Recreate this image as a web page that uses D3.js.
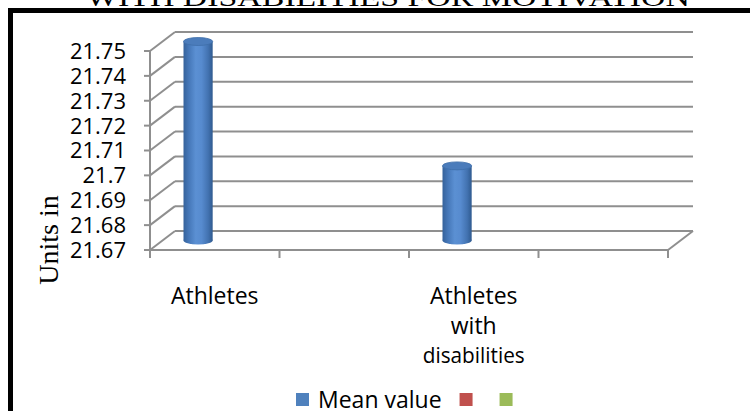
<!DOCTYPE html>
<html>
<head>
<meta charset="utf-8">
<script src="https://cdn.jsdelivr.net/npm/d3@7"></script>
<style>
  html, body { margin: 0; padding: 0; background: #fff; }
  svg { display: block; }
</style>
</head>
<body>
<svg id="chart" width="750" height="411"></svg>
<script>
// ---- data ----
const categories = ["Athletes", "", "Athletes with disabilities", ""];
const categoryLines = [["Athletes"], [], ["Athletes", "with", "disabilities"], []];
const seriesNames = ["Mean value", "", ""];
const seriesColors = ["#4f81bd", "#c0504d", "#9bbb59"];
const meanValues = [21.75, null, 21.70, null];
const yTicks = [21.67, 21.68, 21.69, 21.70, 21.71, 21.72, 21.73, 21.74, 21.75];
const yTickLabels = ["21.67", "21.68", "21.69", "21.7", "21.71", "21.72", "21.73", "21.74", "21.75"];
const titleText = "WITH DISABILITIES FOR MOTIVATION";
const yAxisTitle = "Units in";

// ---- layout ----
const svg = d3.select("#chart");
const front = { left: 150, right: 668, top: 51, bottom: 250 };
const depth = { dx: 25, dy: -19 };
const gridColor = "#8f8f8f";
const textFont = "'Open Sans', sans-serif";

const y = d3.scaleLinear().domain([21.67, 21.75]).range([front.bottom, front.top]);
const x0 = d3.scaleBand().domain(d3.range(categories.length)).range([front.left, front.right]).padding(0);
const x1 = d3.scaleBand().domain(d3.range(seriesNames.length)).range([0, x0.bandwidth()]).paddingOuter(0.72).paddingInner(0);

// outer frame
svg.append("rect")
  .attr("x", 10.5).attr("y", 10.5).attr("width", 800).attr("height", 500)
  .attr("fill", "none").attr("stroke", "#000").attr("stroke-width", 5);

// title (top part falls outside the view)
svg.append("text")
  .attr("x", 388).attr("y", 6)
  .attr("text-anchor", "middle")
  .attr("font-family", "'Liberation Serif', 'Times New Roman', serif")
  .attr("font-size", 26)
  .attr("textLength", 604).attr("lengthAdjust", "spacingAndGlyphs")
  .text(titleText);

// back wall gridlines + side wall diagonals
const grid = svg.append("g").attr("stroke", gridColor).attr("stroke-width", 2).attr("fill", "none");
yTicks.forEach(t => {
  const fy = y(t);
  grid.append("line")
    .attr("x1", front.left + depth.dx).attr("y1", fy + depth.dy)
    .attr("x2", front.right + depth.dx).attr("y2", fy + depth.dy);
  grid.append("line")
    .attr("x1", front.left).attr("y1", fy)
    .attr("x2", front.left + depth.dx).attr("y2", fy + depth.dy);
});
// floor right edge diagonal
grid.append("line")
  .attr("x1", front.right).attr("y1", front.bottom)
  .attr("x2", front.right + depth.dx).attr("y2", front.bottom + depth.dy);
// front floor edge
grid.append("line")
  .attr("x1", front.left).attr("y1", front.bottom)
  .attr("x2", front.right).attr("y2", front.bottom);
// front vertical axis
grid.append("line")
  .attr("x1", front.left).attr("y1", front.top)
  .attr("x2", front.left).attr("y2", front.bottom);
// y tick marks
yTicks.forEach(t => {
  grid.append("line")
    .attr("x1", front.left - 6).attr("y1", y(t))
    .attr("x2", front.left).attr("y2", y(t));
});
// x tick marks at category boundaries
const xBounds = categories.map((c, i) => x0(i)).concat([front.right]);
xBounds.forEach(xb => {
  grid.append("line")
    .attr("x1", xb).attr("y1", front.bottom)
    .attr("x2", xb).attr("y2", front.bottom + 8);
});

// y tick labels
svg.append("g").selectAll("text")
  .data(yTicks)
  .join("text")
  .attr("x", 126)
  .attr("y", d => y(d))
  .attr("dy", "0.36em")
  .attr("text-anchor", "end")
  .attr("font-family", textFont)
  .attr("font-size", 22)
  .attr("fill", "#000")
  .text((d, i) => yTickLabels[i]);

// y axis title
svg.append("text")
  .attr("transform", "translate(58,240) rotate(-90)")
  .attr("text-anchor", "middle")
  .attr("font-family", "'Liberation Serif', 'Times New Roman', serif")
  .attr("font-size", 28)
  .attr("fill", "#000")
  .text(yAxisTitle);

// category labels
const catG = svg.append("g");
categoryLines.forEach((lines, i) => {
  const cx = x0(i) + x0.bandwidth() / 2;
  lines.forEach((ln, j) => {
    const t = catG.append("text")
      .attr("x", cx).attr("y", 304 + j * 29.5)
      .attr("text-anchor", "middle")
      .attr("font-family", textFont)
      .attr("font-size", 23)
      .attr("fill", "#000")
      .text(ln);
    if (ln === "disabilities") t.attr("font-size", 21).attr("textLength", 102).attr("lengthAdjust", "spacingAndGlyphs");
  });
});

// cylinders
const defs = svg.append("defs");
const grad = defs.append("linearGradient").attr("id", "cylBody").attr("x1", "0").attr("x2", "1").attr("y1", "0").attr("y2", "0");
[["0%", "#35629b"], ["18%", "#4577b8"], ["42%", "#5b90d3"], ["62%", "#578bcf"], ["85%", "#4272b0"], ["100%", "#2f5a8f"]]
  .forEach(([o, c]) => grad.append("stop").attr("offset", o).attr("stop-color", c));

const bars = svg.append("g");
const ry = 4;
meanValues.forEach((v, i) => {
  if (v == null) return;
  const bx = x0(i) + x1(0) + depth.dx / 2;
  const bw = x1.bandwidth();
  const yTop = y(v) + depth.dy / 2;
  const yBot = y(21.67) + depth.dy / 2;
  const cx = bx + bw / 2;
  // bottom cap
  bars.append("ellipse").attr("cx", cx).attr("cy", yBot).attr("rx", bw / 2).attr("ry", ry).attr("fill", "url(#cylBody)");
  // body
  bars.append("rect").attr("x", bx).attr("y", yTop).attr("width", bw).attr("height", yBot - yTop).attr("fill", "url(#cylBody)");
  // top cap
  bars.append("ellipse").attr("cx", cx).attr("cy", yTop).attr("rx", bw / 2).attr("ry", ry)
    .attr("fill", "#4b7cbb").attr("stroke", "#3f6ea9").attr("stroke-width", 0.8);
});

// legend
const legend = svg.append("g");
let lx = 296;
seriesNames.forEach((name, i) => {
  legend.append("rect").attr("x", lx).attr("y", 393).attr("width", 13).attr("height", 13).attr("fill", seriesColors[i]);
  const t = legend.append("text")
    .attr("x", lx + 22).attr("y", 408)
    .attr("font-family", textFont).attr("font-size", 23).attr("fill", "#000")
    .text(name);
  const w = name ? t.node().getComputedTextLength() : 0;
  lx += 13 + 9 + w + 18;
});
</script>
</body>
</html>
